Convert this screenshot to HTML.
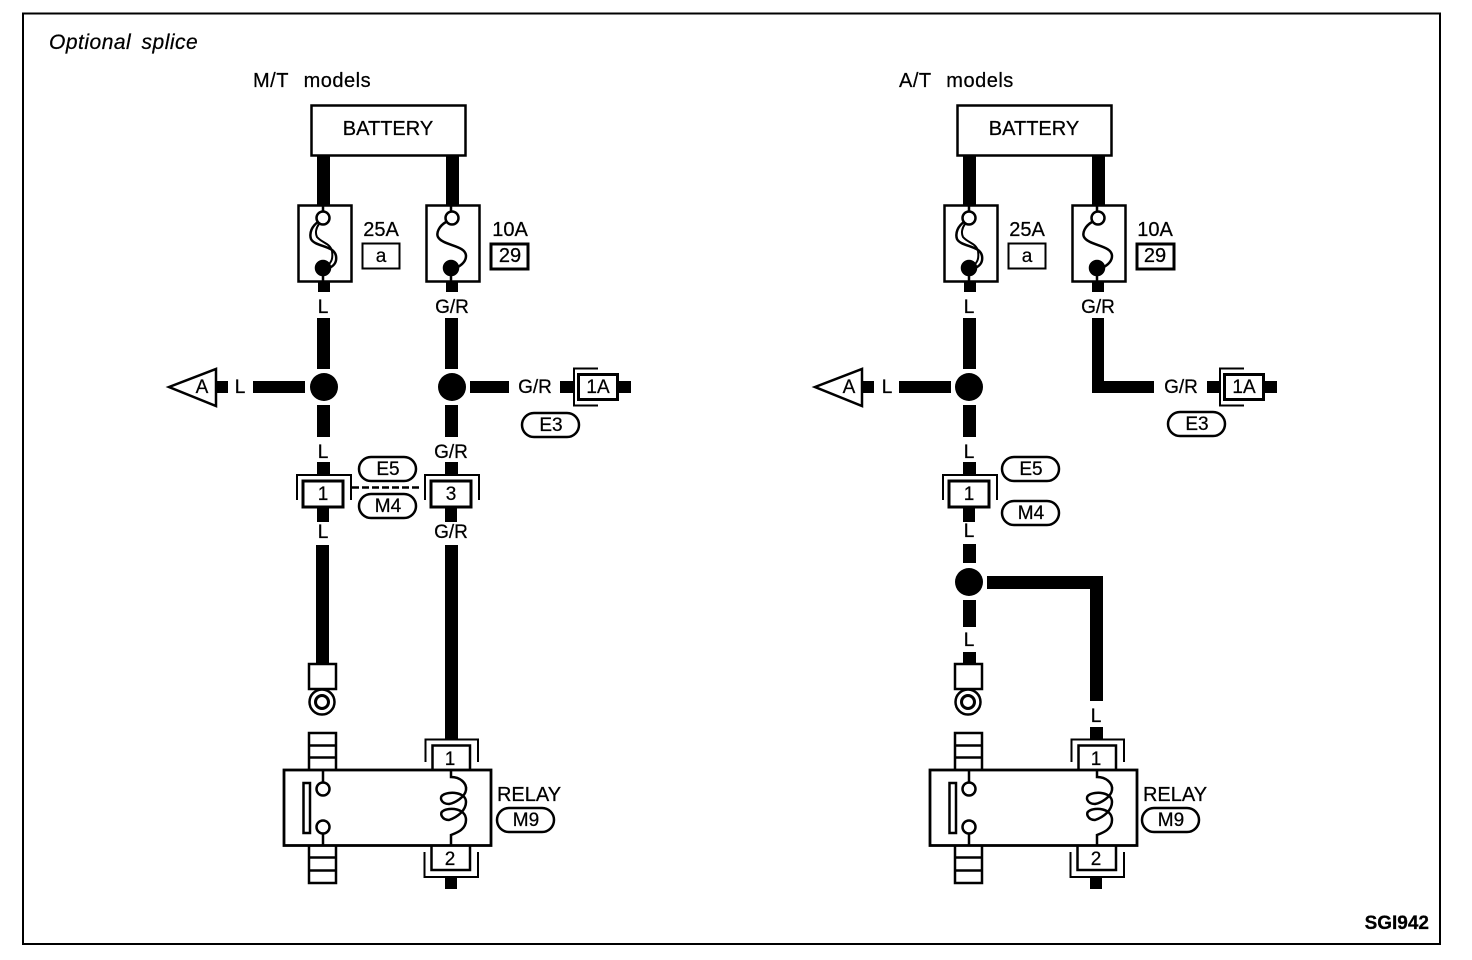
<!DOCTYPE html>
<html><head><meta charset="utf-8"><style>
html,body{margin:0;padding:0;background:#fff}
svg{display:block}
text{font-family:"Liberation Sans",sans-serif;font-size:20px;fill:#000;stroke:#000;stroke-width:.25px;text-anchor:middle}
.s{font-size:19px}
.h{text-anchor:start;word-spacing:9px;letter-spacing:.5px}
</style></head><body>
<svg width="1472" height="960" viewBox="0 0 1472 960" xmlns="http://www.w3.org/2000/svg">
<defs>
<g id="fuse1" fill="none" stroke="#000" stroke-width="2.500">
<rect x="298.500" y="205.500" width="53" height="76" fill="#fff"/>
<circle cx="323" cy="218" r="6.500"/>
<path d="M318 222C312 226 309 233 311 239C315 247 334 245 336 256C337 262 334 266 329 268"/>
<path d="M319 224C316 228 315 233 317 237C322 243 330 243 332 251C333 258 332 262 327 266" stroke-width="2"/>
<circle cx="323" cy="268" r="7" fill="#000"/>
<path d="M323 205V212M323 275V281"/>
</g>
<g id="fuse2" fill="none" stroke="#000" stroke-width="2.500">
<rect x="426.500" y="205.500" width="53" height="76" fill="#fff"/>
<circle cx="452" cy="218" r="6.500"/>
<path d="M446 222C439 226 436 233 438 237C443 246 466 245 466 256C466 262 460 266 456 268"/>
<circle cx="451" cy="268" r="7" fill="#000"/>
<path d="M451 205V212M451 275V281"/>
</g>
<g id="pill"><rect x="1" y="1" width="57" height="24" rx="12" fill="#fff" stroke="#000" stroke-width="2.500"/></g>
<g id="conn" fill="none" stroke="#000" stroke-width="2.500">
<path d="M-26 25V0H28V25" stroke-width="2"/>
<rect x="-20" y="6" width="40" height="26" fill="#fff" stroke-width="3"/>
</g>
<g id="conn1a" fill="none" stroke="#000">
<path d="M598 368.500H574V405.500H598" stroke-width="2"/>
<rect x="578.500" y="374.500" width="39" height="25" fill="#fff" stroke-width="3"/>
</g>
<g id="ground">
<rect x="309" y="664" width="27" height="25" fill="#fff" stroke="#000" stroke-width="2.500"/>
<circle cx="322" cy="702" r="12.500" fill="none" stroke="#000" stroke-width="2.500"/>
<circle cx="322" cy="702" r="6.500" fill="none" stroke="#000" stroke-width="3"/>
</g>
<g id="relay" fill="none" stroke="#000" stroke-width="2.500">
<path d="M309 770V733H336V770M309 745.500H336M309 757.500H336"/>
<path d="M309 845V883H336V845M309 857.500H336M309 870.500H336"/>
<path d="M425.500 762V739.500H478V762" stroke-width="2"/>
<path d="M432.500 769V745.500H470V769"/>
<path d="M431.500 845V870H470V845"/>
<path d="M424.500 852V877H478V852" stroke-width="2"/>
<rect x="284" y="770" width="207" height="75.500" fill="#fff" stroke-width="2.800"/>
<rect x="303.500" y="783" width="6.500" height="50"/>
<circle cx="323" cy="789" r="6.500"/><circle cx="323" cy="827" r="6.500"/>
<path d="M323 770V782M323 834V845"/>
<path d="M451 771V777C460 777 467 783 466 790C465 797 455 803 449 804C441 804 439 797 443 795C449 791 466 792 466 802C466 810 458 817 449 820C442 820 439 813 443 811C449 807 466 808 466 820C466 830 456 833 451 835V845"/>
</g>
</defs>

<rect x="23" y="13.500" width="1417" height="930.500" fill="none" stroke="#000" stroke-width="2"/>
<text x="49" y="49" class="h" style="font-style:italic;font-size:21px;word-spacing:4px">Optional splice</text>
<text x="253" y="87" class="h">M/T models</text>
<text x="899" y="87" class="h">A/T models</text>
<text x="1429" y="929" style="text-anchor:end;font-weight:bold;font-size:19px">SGI942</text>

<!-- LEFT -->
<g fill="#000">
<rect x="317" y="155" width="13" height="50"/><rect x="446" y="155" width="13" height="50"/>
<rect x="318" y="281" width="12" height="11"/><rect x="446" y="281" width="12" height="11"/>
<rect x="317" y="318" width="13" height="51"/><rect x="445" y="318" width="13" height="51"/>
<rect x="253" y="381" width="52" height="12"/><rect x="216" y="381" width="12" height="12"/>
<rect x="470" y="381" width="39" height="12"/><rect x="560" y="381" width="13" height="12"/><rect x="618" y="381" width="13" height="12"/>
<rect x="317" y="405" width="13" height="32"/><rect x="445" y="405" width="13" height="32"/>
<rect x="317" y="462" width="13" height="14"/><rect x="445" y="462" width="13" height="14"/>
<rect x="317" y="507" width="12" height="15"/><rect x="445" y="507" width="12" height="15"/>
<rect x="316" y="545" width="13" height="120"/><rect x="445" y="545" width="13" height="194"/>
<rect x="445" y="877" width="12" height="12"/>
<circle cx="324" cy="387" r="14"/><circle cx="452" cy="387" r="14"/>
</g>
<rect x="311.500" y="105.500" width="154" height="50" fill="#fff" stroke="#000" stroke-width="2.500"/>
<text x="388" y="135">BATTERY</text>
<use href="#fuse1"/><use href="#fuse2"/>
<text x="381" y="236">25A</text><rect x="362.500" y="243.500" width="37" height="25" fill="none" stroke="#000" stroke-width="2"/><text x="381" y="262" class="s">a</text>
<text x="510" y="236">10A</text><rect x="491" y="244" width="37" height="25" fill="none" stroke="#000" stroke-width="3"/><text x="510" y="262">29</text>
<text x="323" y="313" class="s">L</text><text x="452" y="313" class="s">G/R</text>
<polygon points="169,387 216,369 216,406" fill="#fff" stroke="#000" stroke-width="2.500"/>
<text x="202" y="393" class="s">A</text><text x="240" y="393" class="s">L</text>
<text x="535" y="393" class="s">G/R</text>
<use href="#conn1a"/><text x="598" y="393" class="s">1A</text>
<use href="#pill" x="521" y="412"/><text x="551" y="431" class="s">E3</text>
<text x="323" y="458" class="s">L</text><text x="451" y="458" class="s">G/R</text>
<path d="M352 487.500H419" stroke="#000" stroke-width="2.500" stroke-dasharray="7 3"/>
<use href="#pill" x="358" y="456"/><text x="388" y="475" class="s">E5</text>
<use href="#pill" x="358" y="493"/><text x="388" y="512" class="s">M4</text>
<use href="#conn" x="323" y="475"/><text x="323" y="500" class="s">1</text>
<use href="#conn" x="451" y="475"/><text x="451" y="500" class="s">3</text>
<text x="323" y="538" class="s">L</text><text x="451" y="538" class="s">G/R</text>
<use href="#ground"/><use href="#relay"/>
<text x="450" y="765" class="s">1</text><text x="450" y="865" class="s">2</text>
<text x="529" y="801">RELAY</text>
<use href="#pill" x="496" y="807"/><text x="526" y="826" class="s">M9</text>

<!-- RIGHT -->
<g fill="#000">
<rect x="963" y="155" width="13" height="50"/><rect x="1092" y="155" width="13" height="50"/>
<rect x="964" y="281" width="12" height="11"/><rect x="1092" y="281" width="12" height="11"/>
<rect x="963" y="318" width="13" height="51"/>
<path d="M1092 318H1104V381H1154V393H1092Z"/>
<rect x="899" y="381" width="52" height="12"/><rect x="862" y="381" width="12" height="12"/>
<rect x="1207" y="381" width="12" height="12"/><rect x="1264" y="381" width="13" height="12"/>
<rect x="963" y="405" width="13" height="32"/>
<rect x="963" y="462" width="13" height="14"/>
<rect x="963" y="507" width="12" height="15"/>
<rect x="963" y="544" width="13" height="19"/><rect x="963" y="600" width="13" height="27"/>
<rect x="963" y="652" width="13" height="13"/>
<path d="M987 576H1103V701H1090V589H987Z"/>
<rect x="1090" y="727" width="13" height="13"/>
<rect x="1090" y="877" width="12" height="12"/>
<circle cx="969" cy="387" r="14"/><circle cx="969" cy="582" r="14"/>
</g>
<rect x="957.500" y="105.500" width="154" height="50" fill="#fff" stroke="#000" stroke-width="2.500"/>
<text x="1034" y="135">BATTERY</text>
<use href="#fuse1" x="646"/><use href="#fuse2" x="646"/>
<text x="1027" y="236">25A</text><rect x="1008.500" y="243.500" width="37" height="25" fill="none" stroke="#000" stroke-width="2"/><text x="1027" y="262" class="s">a</text>
<text x="1155" y="236">10A</text><rect x="1137" y="244" width="37" height="25" fill="none" stroke="#000" stroke-width="3"/><text x="1155" y="262">29</text>
<text x="969" y="313" class="s">L</text><text x="1098" y="313" class="s">G/R</text>
<polygon points="815,387 862,369 862,406" fill="#fff" stroke="#000" stroke-width="2.500"/>
<text x="849" y="393" class="s">A</text><text x="887" y="393" class="s">L</text>
<text x="1181" y="393" class="s">G/R</text>
<use href="#conn1a" x="646"/><text x="1244" y="393" class="s">1A</text>
<use href="#pill" x="1167" y="411"/><text x="1197" y="430" class="s">E3</text>
<text x="969" y="458" class="s">L</text>
<use href="#pill" x="1001" y="456"/><text x="1031" y="475" class="s">E5</text>
<use href="#pill" x="1001" y="500"/><text x="1031" y="519" class="s">M4</text>
<use href="#conn" x="969" y="475"/><text x="969" y="500" class="s">1</text>
<text x="969" y="537" class="s">L</text><text x="969" y="646" class="s">L</text>
<text x="1096" y="722" class="s">L</text>
<use href="#ground" x="646"/><use href="#relay" x="646"/>
<text x="1096" y="765" class="s">1</text><text x="1096" y="865" class="s">2</text>
<text x="1175" y="801">RELAY</text>
<use href="#pill" x="1141" y="807"/><text x="1171" y="826" class="s">M9</text>
</svg>
</body></html>
